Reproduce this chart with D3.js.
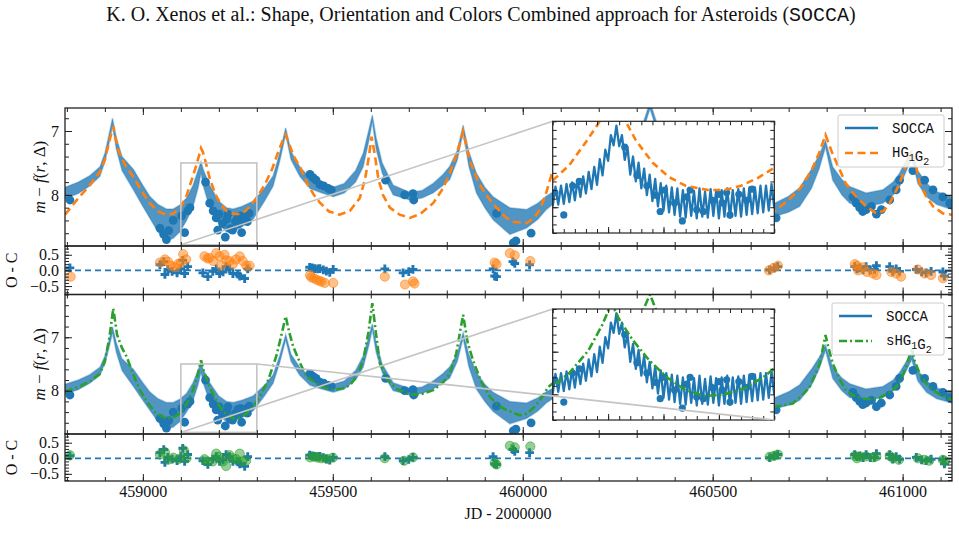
<!DOCTYPE html>
<html><head><meta charset="utf-8">
<script src="https://cdn.jsdelivr.net/npm/d3@7"></script>
<style>
body{margin:0;background:#fff}
text{font-family:"Liberation Serif","Times New Roman",serif;fill:#111}
.mono{font-family:"Liberation Mono","DejaVu Sans Mono",monospace}
</style></head>
<body><svg id="c" width="959" height="556"></svg>
<script>
// ---------------- DATA ----------------
const xDomain = [458795, 461130];
const xMajorTicks = [459000, 459500, 460000, 460500, 461000];
const xTickLabels = ["459000", "459500", "460000", "460500", "461000"];
const magTicks = [7, 8];
const magTickLabels = ["7", "8"];
const resTicks = [0.5, 0, -0.5];
const resTickLabels = ["0.5", "0.0", "\u22120.5"];

// SOCCA model envelope (rapidly oscillating model drawn as a band in the main panels)
const bandJD = [458795,458830,458860,458887,458900,458910,458920,458930,458945,458975,459000,459018,459040,459062,459080,459097,459115,459132,459145,459153,459160,459176,459200,459220,459238,459260,459290,459320,459343,459360,459376,459390,459413,459440,459466,459501,459530,459560,459580,459595,459604,459614,459630,459659,459703,459735,459764,459790,459808,459828,459843,459858,459878,459900,459922,459966,460010,460040,460062,460100,460150,460200,460260,460310,460335,460360,460420,460500,460580,460640,460663,460700,460729,460760,460780,460797,460816,460840,460861,460904,460948,460975,460992,461010,461024,461040,461063,461090,461130];
const bandBright = [7.88,7.80,7.70,7.56,7.35,7.08,6.80,7.10,7.40,7.60,7.85,8.02,8.15,8.22,8.22,8.16,8.05,7.85,7.62,7.48,7.62,7.85,8.10,8.20,8.22,8.18,8.10,7.90,7.70,7.35,6.95,7.32,7.56,7.74,7.80,7.88,7.82,7.62,7.35,6.98,6.75,7.10,7.50,7.85,7.96,7.93,7.82,7.68,7.55,7.30,6.91,7.32,7.66,7.88,8.03,8.20,8.23,8.13,8.02,7.88,7.72,7.60,7.35,7.00,6.55,7.00,7.55,7.90,8.10,8.14,8.13,8.02,7.89,7.60,7.38,7.15,7.56,7.76,7.87,7.97,7.92,7.80,7.66,7.45,7.30,7.62,7.82,7.95,8.03];
const bandFaint = [8.06,7.98,7.86,7.71,7.48,7.22,6.92,7.28,7.62,7.92,8.18,8.36,8.58,8.72,8.68,8.58,8.40,8.18,7.90,7.66,7.88,8.20,8.45,8.58,8.58,8.50,8.38,8.10,7.86,7.48,7.05,7.45,7.71,7.90,7.96,8.03,7.97,7.80,7.56,7.15,6.85,7.28,7.66,8.00,8.08,8.05,7.97,7.85,7.76,7.45,7.02,7.55,7.97,8.20,8.39,8.62,8.52,8.38,8.23,8.05,7.88,7.72,7.48,7.12,6.65,7.12,7.70,8.10,8.32,8.35,8.34,8.27,8.18,7.90,7.60,7.25,7.77,8.00,8.13,8.18,8.13,8.00,7.87,7.62,7.42,7.82,8.03,8.15,8.23];

// SOCCA model as sampled inside the zoom window (inset)
const zigJD = [459100,459102.5,459105,459107.5,459110,459112.5,459115,459117.5,459120,459122.5,459125,459127.5,459130,459132.5,459135,459137.5,459140,459142.5,459145,459147.5,459150,459152.5,459155,459157.5,459160,459162.5,459165,459167.5,459170,459172.5,459175,459177.5,459180,459182.5,459185,459187.5,459190,459192.5,459195,459197.5,459200,459202.5,459205,459207.5,459210,459212.5,459215,459217.5,459220,459222.5,459225,459227.5,459230,459232.5,459235,459237.5,459240,459242.5,459245,459247.5,459250,459252.5,459255,459257.5,459260,459262.5,459265,459267.5,459270,459272.5,459275,459277.5,459280,459282.5,459285,459287.5,459290,459292.5,459295,459297.5,459300];
const zigMag = [8.49,8.26,8.47,8.25,8.46,8.23,8.44,8.21,8.42,8.18,8.38,8.14,8.34,8.09,8.29,8.03,8.24,7.94,8.13,7.83,7.96,7.66,7.78,7.55,7.79,7.66,7.95,7.80,8.12,7.91,8.20,7.98,8.28,8.05,8.36,8.12,8.43,8.17,8.49,8.22,8.54,8.25,8.56,8.27,8.59,8.28,8.61,8.30,8.62,8.29,8.60,8.31,8.63,8.28,8.61,8.32,8.62,8.29,8.60,8.31,8.63,8.30,8.61,8.28,8.62,8.30,8.60,8.29,8.61,8.28,8.59,8.27,8.58,8.27,8.57,8.25,8.56,8.25,8.54,8.23,8.51];

// HG1G2 model
const hgJD = [458795,458830,458860,458887,458900,458912,458922,458935,458955,458974,459000,459018,459040,459062,459080,459100,459115,459130,459140,459148,459153,459158,459165,459175,459190,459205,459220,459240,459255,459270,459285,459300,459320,459340,459355,459368,459376,459385,459396,459415,459431,459450,459466,459490,459518,459545,459571,459585,459595,459602,459610,459620,459632,459650,459676,459703,459730,459764,459790,459808,459825,459843,459858,459870,459887,459910,459931,459955,459974,460010,460030,460045,460060,460077,460120,460200,460280,460335,460390,460480,460580,460640,460663,460700,460730,460760,460780,460797,460815,460834,460850,460869,460904,460931,460950,460966,460980,460992,461005,461015,461024,461035,461045,461060,461080,461106,461130];
const hgMag = [8.31,8.05,7.85,7.64,7.45,7.15,6.93,7.30,7.55,7.71,7.97,8.13,8.26,8.31,8.29,8.19,8.01,7.74,7.55,7.38,7.27,7.33,7.48,7.72,7.98,8.15,8.25,8.30,8.30,8.25,8.16,8.04,7.85,7.60,7.35,7.15,7.06,7.20,7.38,7.58,7.80,8.00,8.12,8.26,8.31,8.25,8.05,7.75,7.40,7.09,7.35,7.75,8.00,8.20,8.31,8.36,8.30,8.13,7.90,7.66,7.38,7.01,7.40,7.62,7.84,8.05,8.20,8.35,8.42,8.44,8.36,8.23,8.00,7.66,7.50,7.35,7.20,7.00,7.30,7.80,8.15,8.28,8.25,8.08,7.90,7.62,7.35,7.06,7.35,7.60,7.82,7.97,8.18,8.29,8.25,8.13,7.97,7.82,7.60,7.40,7.30,7.55,7.82,8.00,8.18,8.29,8.31];

// sHG1G2 model
const shgJD = [458795,458830,458860,458887,458900,458912,458922,458932,458945,458957,458975,458992,459015,459036,459062,459080,459097,459115,459132,459145,459153,459160,459172,459187,459203,459220,459238,459255,459273,459290,459308,459330,459351,459365,459376,459385,459396,459415,459431,459457,459480,459501,459525,459545,459565,459580,459594,459604,459614,459624,459645,459667,459703,459735,459764,459790,459808,459825,459843,459855,459869,459890,459913,459935,459957,459992,460010,460027,460045,460067,460100,460150,460200,460260,460310,460335,460360,460420,460500,460580,460630,460663,460711,460740,460755,460770,460782,460797,460805,460816,460835,460851,460873,460895,460917,460939,460962,460983,461000,461009,461018,461024,461032,461045,461060,461080,461100,461124,461130];
const shgMag = [8.02,7.93,7.83,7.68,7.45,7.00,6.46,6.95,7.20,7.36,7.70,7.99,8.25,8.43,8.52,8.50,8.43,8.25,7.99,7.68,7.43,7.62,7.86,8.10,8.30,8.45,8.52,8.50,8.43,8.30,8.11,7.80,7.36,6.95,6.61,6.90,7.18,7.50,7.74,7.86,7.95,7.98,7.96,7.90,7.70,7.43,6.90,6.36,6.95,7.49,7.80,7.96,8.08,8.06,7.99,7.85,7.68,7.30,6.58,7.10,7.43,7.82,8.11,8.28,8.36,8.46,8.43,8.33,8.18,7.93,7.75,7.55,7.35,7.00,6.60,6.20,6.65,7.40,7.95,8.25,8.32,8.30,8.24,8.05,7.93,7.70,7.49,6.96,7.20,7.49,7.80,7.99,8.10,8.15,8.16,8.13,8.05,7.93,7.72,7.55,7.35,7.20,7.45,7.68,7.85,7.99,8.08,8.15,8.16];

// Observations
const obsJD = [458808,459045,459055,459062,459068,459080,459102,459110,459118,459124,459165,459176,459185,459193,459197,459201,459210,459217,459221,459224,459230,459236,459244,459250,459253,459257,459260,459268,459275,459280,459440,459448,459456,459466,459476,459488,459496,459639,459689,459711,459713,459931,459975,459982,460022,460667,460869,460878,460887,460895,460904,460918,460931,460944,460966,460983,460992,461027,461058,461080,461106,461124];
const obsMag = [8.08,8.52,8.62,8.70,8.56,8.40,8.33,8.59,8.25,8.20,7.80,8.13,8.25,8.36,8.55,8.30,8.45,8.66,8.38,8.30,8.53,8.55,8.42,8.35,8.45,8.33,8.59,8.35,8.42,8.29,7.68,7.73,7.77,7.84,7.86,7.90,7.92,7.77,8.00,7.98,8.08,8.29,8.75,8.72,8.60,8.36,8.03,8.13,8.20,8.26,8.23,8.18,8.30,8.23,8.08,7.92,7.77,7.62,7.77,7.92,8.03,8.13];

// O - C residuals
const resSoccaJD = [458808,459045,459055,459058,459066,459077,459090,459100,459105,459110,459118,459158,459171,459184,459193,459202,459211,459219,459228,459237,459250,459255,459268,459276,459439,459446,459452,459460,459466,459475,459483,459492,459501,459637,459685,459700,459711,459922,459926,459931,459974,459979,460018,460650,460662,460671,460874,460880,460887,460896,460904,460915,460926,460931,460966,460974,460983,460992,461036,461050,461062,461075,461106,461110];
const resSocca = [0.08,0.18,0.28,-0.13,0.03,-0.03,-0.08,0.05,0.32,-0.10,0.12,-0.08,-0.20,-0.03,0.05,-0.10,-0.05,0.12,0.05,-0.10,-0.12,-0.18,-0.26,0.05,0.10,0.08,0.06,0.05,0.06,0.02,-0.02,-0.06,0.03,0.05,-0.08,-0.04,0.03,0.05,-0.18,-0.20,0.28,0.22,0.18,0.02,0.08,0.12,0.12,0.05,0.08,0.02,0.12,0.02,0.03,0.15,0.12,-0.03,0.05,-0.03,0.03,-0.05,-0.08,-0.03,-0.05,-0.18];
const resHgJD = [458810,459045,459058,459066,459074,459085,459092,459100,459106,459114,459162,459170,459175,459185,459193,459202,459206,459215,459220,459228,459237,459245,459255,459263,459272,459281,459440,459443,459450,459457,459465,459470,459479,459501,459637,459690,459711,459715,459926,459931,459966,459979,460020,460648,460660,460672,460874,460880,460883,460896,460906,460922,460931,460970,460983,460996,461040,461058,461075,461106];
const resHg = [-0.20,0.25,0.35,0.28,0.15,0.10,0.20,0.25,0.52,0.35,0.45,0.38,0.40,0.30,0.55,0.45,0.15,0.50,0.32,0.30,0.20,0.35,0.45,0.30,0.15,0.15,-0.15,-0.22,-0.25,-0.30,-0.33,-0.36,-0.40,-0.40,-0.20,-0.45,-0.35,-0.42,0.25,0.20,0.55,0.48,0.30,0.00,0.08,0.15,0.20,0.15,0.00,0.10,-0.05,-0.10,-0.15,-0.05,-0.10,-0.20,0.03,-0.10,-0.15,-0.25];
const resShgJD = [458808,459045,459058,459066,459080,459095,459108,459115,459162,459170,459184,459193,459200,459211,459219,459228,459237,459246,459255,459262,459272,459440,459450,459460,459470,459485,459500,459637,459688,459711,459926,459931,459966,459979,460020,460650,460662,460672,460874,460880,460890,460904,460922,460931,460966,460975,460990,461040,461058,461070,461106,461112];
const resShg = [0.10,0.12,0.20,-0.05,0.02,-0.02,0.25,0.00,-0.03,-0.10,-0.10,0.15,0.05,-0.10,-0.25,0.10,0.00,-0.03,0.15,-0.10,-0.08,0.03,0.05,0.02,0.00,-0.02,0.02,0.00,-0.08,0.03,-0.15,-0.20,0.40,0.35,0.38,0.05,0.08,0.12,0.08,0.00,0.05,0.06,0.03,0.06,0.08,0.00,-0.05,0.00,-0.05,-0.08,-0.05,-0.10];

// zoom window
const zoomJD = [459100, 459300];
const zoomMag = [7.5, 8.78];

// ---------------- LAYOUT ----------------
const BLUE = "#1f77b4", ORANGE = "#ff7f0e", GREEN = "#2ca02c", GREY = "#c4c4c4";
const svg = d3.select("#c");
const x = d3.scaleLinear().domain(xDomain).range([65, 952]);
const P = {
  lc1: {top: 108, bot: 246, dom: [6.64, 8.80]},
  r1:  {top: 246, bot: 294.5, dom: [0.78, -0.77]},
  lc2: {top: 294.5, bot: 434, dom: [6.20, 8.81]},
  r2:  {top: 434, bot: 481, dom: [0.78, -0.73]}
};
Object.entries(P).forEach(([k, p]) => {
  p.y = d3.scaleLinear().domain(p.dom).range([p.top, p.bot]);
  svg.append("clipPath").attr("id", "clip-" + k).append("rect")
    .attr("x", 65).attr("y", p.top).attr("width", 887).attr("height", p.bot - p.top);
  p.g = svg.append("g").attr("clip-path", `url(#clip-${k})`);
});

const zipped = (a, b) => a.map((v, i) => [v, b[i]]);
const minorX = d3.range(458800, 461200, 100);

function drawBand(p) {
  const data = bandJD.map((j, i) => ({j, a: bandBright[i], b: bandFaint[i]}));
  p.g.append("path").datum(data)
    .attr("d", d3.area().x(d => x(d.j)).y0(d => p.y(d.b)).y1(d => p.y(d.a)))
    .attr("fill", BLUE).attr("fill-opacity", 0.78)
    .attr("stroke", BLUE).attr("stroke-opacity", 0.35).attr("stroke-width", 1.5);
}
function drawDots(g, xs, ys, r) {
  g.selectAll(null).data(zipped(obsJD, obsMag)).join("circle")
    .attr("cx", d => xs(d[0])).attr("cy", d => ys(d[1])).attr("r", r).attr("fill", BLUE);
}
function drawModel(g, xs, ys, jd, mag, color, dash) {
  g.append("path").datum(zipped(jd, mag))
    .attr("d", d3.line().x(d => xs(d[0])).y(d => ys(d[1])))
    .attr("fill", "none").attr("stroke", color).attr("stroke-width", 2.6)
    .attr("stroke-dasharray", dash);
}
function axesFor(p, yMajor, yMinor, yLabels, showX) {
  const lo = Math.min(...p.dom), hi = Math.max(...p.dom);
  yMinor = yMinor.filter(v => v >= lo && v <= hi);
  const a = svg.append("g");
  const add = (gen, tx, ty) => {
    const g = a.append("g").attr("transform", `translate(${tx},${ty})`).call(gen);
    g.select(".domain").remove();
    g.selectAll("line").attr("stroke", "#222").attr("stroke-width", 1);
    return g;
  };
  add(d3.axisBottom(x).tickValues(minorX).tickSize(-4).tickFormat(""), 0, p.bot);
  add(d3.axisTop(x).tickValues(minorX).tickSize(-4).tickFormat(""), 0, p.top);
  add(d3.axisTop(x).tickValues(xMajorTicks).tickSize(-7).tickFormat(""), 0, p.top);
  const xb = add(d3.axisBottom(x).tickValues(xMajorTicks).tickSize(-7)
      .tickPadding(5).tickFormat((d, i) => showX ? xTickLabels[i] : ""), 0, p.bot);
  xb.selectAll("text").attr("font-size", 16).attr("fill", "#111")
    .attr("font-family", "Liberation Serif, serif");
  add(d3.axisLeft(p.y).tickValues(yMinor).tickSize(-4).tickFormat(""), 65, 0);
  add(d3.axisRight(p.y).tickValues(yMinor).tickSize(-4).tickFormat(""), 952, 0);
  add(d3.axisRight(p.y).tickValues(yMajor).tickSize(-7).tickFormat(""), 952, 0);
  const yl = add(d3.axisLeft(p.y).tickValues(yMajor).tickSize(-7).tickPadding(6)
      .tickFormat((d, i) => yLabels[i]), 65, 0);
  yl.selectAll("text").attr("font-size", 16).attr("fill", "#111")
    .attr("font-family", "Liberation Serif, serif");
  a.append("rect").attr("x", 65).attr("y", p.top).attr("width", 887).attr("height", p.bot - p.top)
    .attr("fill", "none").attr("stroke", "#222").attr("stroke-width", 1.3);
}
const magMinor = d3.range(6.2, 8.9, 0.2).map(v => +v.toFixed(2));
const resMinor = d3.range(-0.7, 0.8, 0.1).map(v => +v.toFixed(2));

function zoomMarks(p) {
  const x0 = x(zoomJD[0]), x1 = x(zoomJD[1]), y0 = p.y(zoomMag[0]), y1 = p.y(zoomMag[1]);
  p.g.append("rect").attr("x", x0).attr("y", y0).attr("width", x1 - x0).attr("height", y1 - y0)
    .attr("fill", "none").attr("stroke", GREY).attr("stroke-width", 1.6);
  return {x0, x1, y0, y1};
}
function inset(p, box, model, modelColor, modelDash, key) {
  const xs = d3.scaleLinear().domain(zoomJD).range([box.l, box.r]);
  const ys = d3.scaleLinear().domain([7.5, 8.8]).range([box.t, box.b]);
  const g0 = svg.append("g");
  g0.append("rect").attr("x", box.l).attr("y", box.t).attr("width", box.r - box.l).attr("height", box.b - box.t)
    .attr("fill", "#fff");
  g0.append("clipPath").attr("id", "ic-" + key).append("rect")
    .attr("x", box.l).attr("y", box.t).attr("width", box.r - box.l).attr("height", box.b - box.t);
  const g = g0.append("g").attr("clip-path", `url(#ic-${key})`);
  g.append("path").datum(zipped(zigJD, zigMag))
    .attr("d", d3.line().x(d => xs(d[0])).y(d => ys(d[1])))
    .attr("fill", "none").attr("stroke", BLUE).attr("stroke-width", 2.3).attr("stroke-linejoin", "round");
  drawDots(g, xs, ys, 3.6);
  drawModel(g, xs, ys, model[0], model[1], modelColor, modelDash);
  const add = (gen, tx, ty) => {
    const a = g0.append("g").attr("transform", `translate(${tx},${ty})`).call(gen);
    a.select(".domain").remove();
    a.selectAll("line").attr("stroke", "#222");
  };
  const xm = d3.range(459100, 459301, 10), ym = d3.range(7.5, 8.81, 0.1).map(v => +v.toFixed(2));
  add(d3.axisBottom(xs).tickValues(xm).tickSize(-4).tickFormat(""), 0, box.b);
  add(d3.axisTop(xs).tickValues(xm).tickSize(-4).tickFormat(""), 0, box.t);
  add(d3.axisBottom(xs).tickValues([459150, 459200, 459250]).tickSize(-6).tickFormat(""), 0, box.b);
  add(d3.axisLeft(ys).tickValues(ym).tickSize(-4).tickFormat(""), box.l, 0);
  add(d3.axisRight(ys).tickValues(ym).tickSize(-4).tickFormat(""), box.r, 0);
  add(d3.axisLeft(ys).tickValues([8.0, 8.5]).tickSize(-6).tickFormat(""), box.l, 0);
  g0.append("rect").attr("x", box.l).attr("y", box.t).attr("width", box.r - box.l).attr("height", box.b - box.t)
    .attr("fill", "none").attr("stroke", "#222").attr("stroke-width", 1.2);
}
function legend(x0, y0, w, h, label2, color, dash) {
  const g = svg.append("g");
  g.append("rect").attr("x", x0).attr("y", y0).attr("width", w).attr("height", h).attr("rx", 2)
    .attr("fill", "#fff").attr("fill-opacity", 0.85).attr("stroke", "#cccccc");
  g.append("line").attr("x1", x0 + 7).attr("x2", x0 + 40).attr("y1", y0 + 13).attr("y2", y0 + 13)
    .attr("stroke", BLUE).attr("stroke-width", 2.6);
  g.append("line").attr("x1", x0 + 7).attr("x2", x0 + 40).attr("y1", y0 + 38).attr("y2", y0 + 38)
    .attr("stroke", color).attr("stroke-width", 2.6).attr("stroke-dasharray", dash);
  g.append("text").attr("class", "mono").attr("x", x0 + 54).attr("y", y0 + 18).attr("font-size", 14).text("SOCCA");
  const t = g.append("text").attr("class", "mono").attr("x", x0 + 54).attr("y", y0 + 42).attr("font-size", 14);
  label2.forEach(([s, sub]) => {
    t.append("tspan").text(s);
    t.append("tspan").attr("dy", 4).attr("font-size", 10).text(sub);
    t.append("tspan").attr("dy", -4).text("");
  });
}

// ---------------- PANEL 1 ----------------
drawBand(P.lc1);
drawDots(P.lc1.g, x, P.lc1.y, 4.4);
drawModel(P.lc1.g, x, P.lc1.y, hgJD, hgMag, ORANGE, "8,4.5");
const z1 = zoomMarks(P.lc1);
const box1 = {l: 552.7, r: 774.3, t: 121.3, b: 233};
svg.append("line").attr("x1", z1.x0).attr("y1", z1.y1).attr("x2", box1.l).attr("y2", box1.t)
  .attr("stroke", GREY).attr("stroke-width", 1.6);
axesFor(P.lc1, magTicks, magMinor, magTickLabels, false);
inset(P.lc1, box1, [hgJD, hgMag], ORANGE, "7,4.5", "a");
legend(838, 115, 106, 52, [["HG", "1"], ["G", "2"]], ORANGE, "8,4.5");

// ---------------- PANEL 2 (O-C) ----------------
function drawRes(p, other, otherColor) {
  p.g.append("line").attr("x1", 65).attr("x2", 952).attr("y1", p.y(0)).attr("y2", p.y(0))
    .attr("stroke", BLUE).attr("stroke-width", 1.8).attr("stroke-dasharray", "6,4");
  p.g.selectAll(null).data(zipped(resSoccaJD, resSocca)).join("path")
    .attr("d", d3.symbol(d3.symbolCross, 42))
    .attr("transform", d => `translate(${x(d[0])},${p.y(d[1])})`).attr("fill", BLUE);
  p.g.selectAll(null).data(other).join("circle")
    .attr("cx", d => x(d[0])).attr("cy", d => p.y(d[1])).attr("r", 4.6)
    .attr("fill", otherColor).attr("fill-opacity", 0.5)
    .attr("stroke", otherColor).attr("stroke-opacity", 0.55).attr("stroke-width", 1);
}
drawRes(P.r1, zipped(resHgJD, resHg), ORANGE);
axesFor(P.r1, resTicks, resMinor, resTickLabels, false);

// ---------------- PANEL 3 ----------------
drawBand(P.lc2);
drawDots(P.lc2.g, x, P.lc2.y, 4.4);
drawModel(P.lc2.g, x, P.lc2.y, shgJD, shgMag, GREEN, "8,3,2,3");
const z2 = zoomMarks(P.lc2);
const box2 = {l: 552.7, r: 774.3, t: 309, b: 420};
svg.append("line").attr("x1", z2.x0).attr("y1", z2.y1).attr("x2", box2.l).attr("y2", box2.t)
  .attr("stroke", GREY).attr("stroke-width", 1.6);
axesFor(P.lc2, magTicks, magMinor, magTickLabels, false);
inset(P.lc2, box2, [shgJD, shgMag], GREEN, "8,3,2,3", "b");
svg.append("line").attr("x1", z2.x1).attr("y1", z2.y0).attr("x2", box2.r).attr("y2", box2.b)
  .attr("stroke", GREY).attr("stroke-width", 1.6);
legend(832, 303, 112, 52, [["sHG", "1"], ["G", "2"]], GREEN, "8,3,2,3");

// ---------------- PANEL 4 (O-C) ----------------
drawRes(P.r2, zipped(resShgJD, resShg), GREEN);
axesFor(P.r2, resTicks, resMinor, resTickLabels, true);

// ---------------- TEXT ----------------
const title = svg.append("text").attr("x", 481).attr("y", 21).attr("text-anchor", "middle").attr("font-size", 16);
title.append("tspan").text("K. O. Xenos et al.: Shape, Orientation and Colors Combined approach for Asteroids (");
title.append("tspan").attr("class", "mono").text("SOCCA");
title.append("tspan").text(")");
const tw = title.node().getComputedTextLength();
title.attr("font-size", 16 * 750 / tw);

function yLabel(cx, cy) {
  const t = svg.append("text").attr("transform", `translate(${cx},${cy}) rotate(-90)`)
    .attr("text-anchor", "middle").attr("font-size", 17);
  t.append("tspan").attr("font-style", "italic").text("m");
  t.append("tspan").text(" \u2212 ");
  t.append("tspan").attr("font-style", "italic").text("f");
  t.append("tspan").text("(");
  t.append("tspan").attr("font-style", "italic").text("r");
  t.append("tspan").text(", \u0394)");
}
yLabel(45, (P.lc1.top + P.lc1.bot) / 2);
yLabel(45, (P.lc2.top + P.lc2.bot) / 2);
[P.r1, P.r2].forEach(p => {
  svg.append("text").attr("transform", `translate(17,${(p.top + p.bot) / 2}) rotate(-90)`)
    .attr("text-anchor", "middle").attr("font-size", 16).text("O - C");
});
svg.append("text").attr("x", 508).attr("y", 519).attr("text-anchor", "middle").attr("font-size", 16)
  .text("JD - 2000000");
</script></body></html>
